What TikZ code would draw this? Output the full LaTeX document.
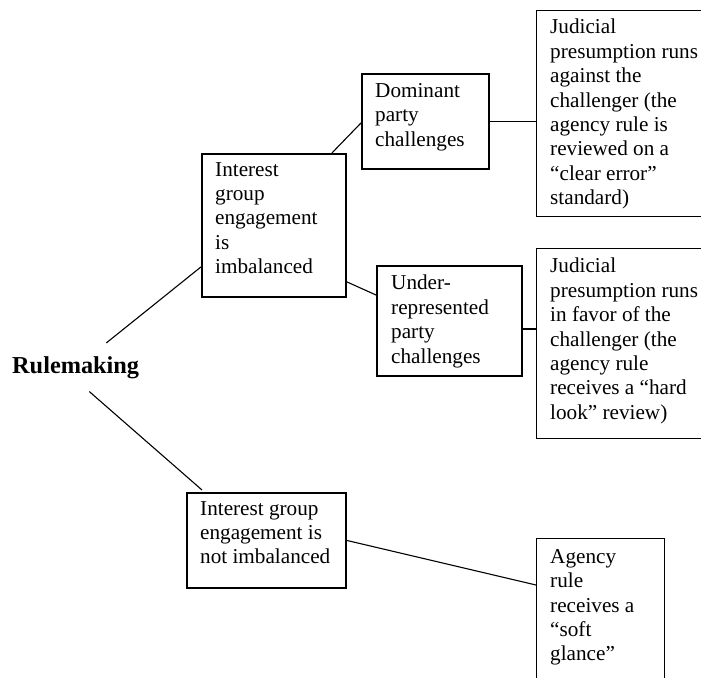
\documentclass[tikz,border=0pt]{standalone}
\usepackage{fontspec}
\setmainfont{Liberation Serif}
\usetikzlibrary{positioning,calc}
\newcommand{\bodysize}{\fontsize{21.2pt}{24.4pt}\selectfont}
\tikzset{
  basebox/.style={rectangle,draw=black,anchor=north west,inner sep=0pt},
  leftbox/.style={basebox,line width=1.9pt},
  rightbox/.style={basebox,line width=1.3pt},
  boxtext/.style={anchor=north west,inner sep=0pt,align=left,font=\bodysize,execute at begin node=\strut},
  link/.style={line width=1.1pt},
  thicklink/.style={line width=2.2pt}
}

\begin{document}
\begin{tikzpicture}[x=1pt,y=1pt]
  \useasboundingbox (0,0) rectangle (701,-677);
  \node[font=\fontsize{24.3pt}{28pt}\selectfont\bfseries,anchor=base west,inner sep=0pt] (rule) at (12,-373) {Rulemaking};

  % boxes
  \node[leftbox,minimum width=144,minimum height=143] (imb) at (201,-153) {};
  \node[leftbox,minimum width=127,minimum height=95] (dom) at (361,-73) {};
  \node[leftbox,minimum width=145,minimum height=110] (und) at (376,-265) {};
  \node[leftbox,minimum width=159,minimum height=95] (notimb) at (186,-492) {};
  \node[rightbox,minimum width=180,minimum height=206] (jud1) at (536,-10) {};
  \node[rightbox,minimum width=180,minimum height=190] (jud2) at (536,-248) {};
  \node[rightbox,minimum width=128,minimum height=160] (soft) at (536,-538) {};

  % texts
  \node[boxtext] (imbtxt) at ([shift={(14,-9)}]imb.north west) {Interest\\group\\engagement\\is\\imbalanced};
  \node[boxtext] (domtxt) at ([shift={(14,-10)}]dom.north west) {Dominant\\party\\challenges};
  \node[boxtext] (undtxt) at ([shift={(15,-10)}]und.north west) {Under-\\represented\\party\\challenges};
  \node[boxtext] (notimbtxt) at ([shift={(14,-9)}]notimb.north west) {Interest group\\engagement is\\not imbalanced};
  \node[boxtext] (jud1txt) at ([shift={(14,-9)}]jud1.north west) {Judicial\\presumption runs\\against the\\challenger (the\\agency rule is\\reviewed on a\\“clear error”\\standard)};
  \node[boxtext] (jud2txt) at ([shift={(14,-10)}]jud2.north west) {Judicial\\presumption runs\\in favor of the\\challenger (the\\agency rule\\receives a “hard\\look” review)};
  \node[boxtext] (softtxt) at ([shift={(14,-11)}]soft.north west) {Agency\\rule\\receives a\\“soft\\glance”};

  % connectors
  \draw[link] ([shift={(-33,13)}]rule.north east) -- ([yshift=31]imb.south west);
  \draw[link] ([shift={(-50,-13)}]rule.south east) -- ([shift={(16,2)}]notimb.north west);
  \draw[link] ([xshift=-15]imb.north east) -- ([yshift=-1.5]dom.west);
  \draw[link] ([yshift=16]imb.south east) -- ([yshift=-30]und.north west);
  \draw[link] (dom.east) -- (dom.east -| jud1.west);
  \draw[thicklink] ([yshift=-8]und.east) -- ([yshift=-8]und.east -| jud2.west);
  \draw[link] (notimb.east) -- ([yshift=-47]soft.north west);
\end{tikzpicture}
\end{document}
